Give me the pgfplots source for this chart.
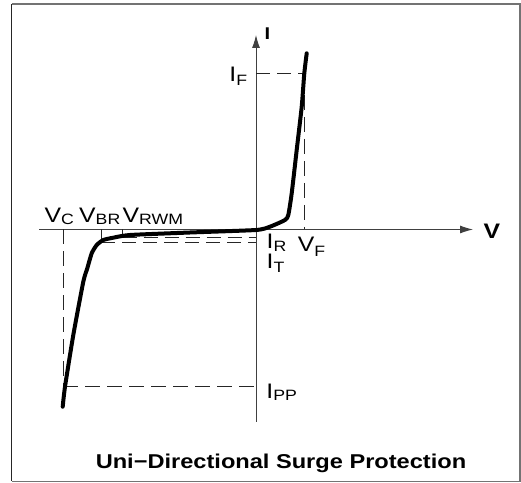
\documentclass[border=0pt]{standalone}
\usepackage{fontspec}
\setmainfont[FakeStretch=1.18]{Liberation Sans}
\usepackage{pgfplots}
\pgfplotsset{compat=1.18}
\usetikzlibrary{arrows.meta}
\newcommand{\lab}{\fontsize{21bp}{22bp}\selectfont}
\newcommand{\sub}[2][3]{\raisebox{-#1bp}{\fontsize{15bp}{15bp}\selectfont #2}}
\begin{document}
\begin{tikzpicture}
\path[use as bounding box] (0,0) rectangle (521bp,483bp);
\begin{axis}[width=521bp,height=483bp,scale only axis,hide axis,clip=false,
  xmin=-256,xmax=265,ymin=-253.5,ymax=229.5]
% frame
\addplot[black!55, line width=1.2bp] coordinates {(-244.5,-252) (264,-252) (264,225.5) (-244.5,225.5)};
\addplot[black!85, line width=1.2bp] coordinates {(-244.5,225.5) (-244.5,-252)};
% axes
\addplot[black!75, line width=0.9bp, -{Latex[length=13bp,width=8bp]}] coordinates {(-217,0) (217,0)};
\addplot[black!75, line width=0.9bp, -{Latex[length=13bp,width=8bp]}] coordinates {(0,-192.5) (0,194.5)};
% dashed guides
\addplot[black!85, line width=0.9bp, dash pattern=on 15bp off 7bp] coordinates {(-192.7,0) (-192.7,-157.2)};
\addplot[black!85, line width=0.9bp, dash pattern=on 15bp off 7bp] coordinates {(-192.7,-157.2) (0,-157.2)};
\addplot[black!85, line width=0.9bp, dash pattern=on 14bp off 7bp] coordinates {(-154.7,-12.8) (0,-12.8)};
\addplot[black!85, line width=0.9bp, dash pattern=on 14bp off 7bp] coordinates {(-133.3,-8.2) (0,-8.2)};
\addplot[black!85, line width=0.9bp, dash pattern=on 14bp off 7bp] coordinates {(0,156.5) (48,156.5)};
\addplot[black!85, line width=0.9bp, dash pattern=on 15bp off 7bp] coordinates {(48,156.5) (48,0)};
% solid ticks
\addplot[black!85, line width=0.9bp] coordinates {(-154.7,0) (-154.7,-12.8)};
\addplot[black!85, line width=0.9bp] coordinates {(-133.3,0) (-133.3,-8.2)};
% characteristic curve
\addplot[black, line width=4bp, smooth, tension=0.35, line cap=round, line join=round] coordinates {
(-193.3,-177.2) (-191,-157.2) (-182.7,-105.5) (-172.7,-52.2) (-168.7,-38.8)
(-164.3,-23.8) (-159.3,-15.5) (-152.7,-10.5) (-142.7,-8.2) (-126,-5.5)
(-66,-3) (0,-0.5) (14,2.8) (29,9.5) (32.3,14.5) (35.7,36.2) (40.7,79.5)
(45.7,122.8) (48.3,156.2) (50.7,176.2)};
% labels
\node[anchor=base west, inner sep=0pt] at (axis cs:-211.7,6.5) {\lab V\sub[2]{C}};
\node[anchor=base west, inner sep=0pt] at (axis cs:-177,6.5) {\lab V\sub[2]{BR}};
\node[anchor=base west, inner sep=0pt] at (axis cs:-133.5,6.5) {\lab V\sub[2]{RWM}};
\node[anchor=base west, inner sep=0pt] at (axis cs:10.5,-19.5) {\vtop{\baselineskip=19.5bp\lineskiplimit=-100bp\hbox{\lab I\sub[3]{R}}\hbox{\lab I\sub[4]{T}}}};
\node[anchor=base west, inner sep=0pt] at (axis cs:41.7,-22.2) {\lab V\sub[5]{F}};
\node[anchor=base west, inner sep=0pt] at (axis cs:-26.8,147.8) {\lab I\sub[4]{F}};
\node[anchor=base west, inner sep=0pt] at (axis cs:10.2,-168.8) {\lab I\sub[2]{PP}};
\node[anchor=base west, inner sep=0pt] at (axis cs:227.5,-8.8) {\fontsize{21bp}{22bp}\selectfont\bfseries V};
\node[anchor=base west, inner sep=0pt] at (axis cs:8.5,190.2) {\fontsize{17bp}{18bp}\selectfont\bfseries I};
\node[anchor=base, inner sep=0pt] at (axis cs:25,-238.8) {\fontsize{20bp}{22bp}\selectfont\bfseries Uni\textminus Directional Surge Protection};
\end{axis}
\end{tikzpicture}
\end{document}
